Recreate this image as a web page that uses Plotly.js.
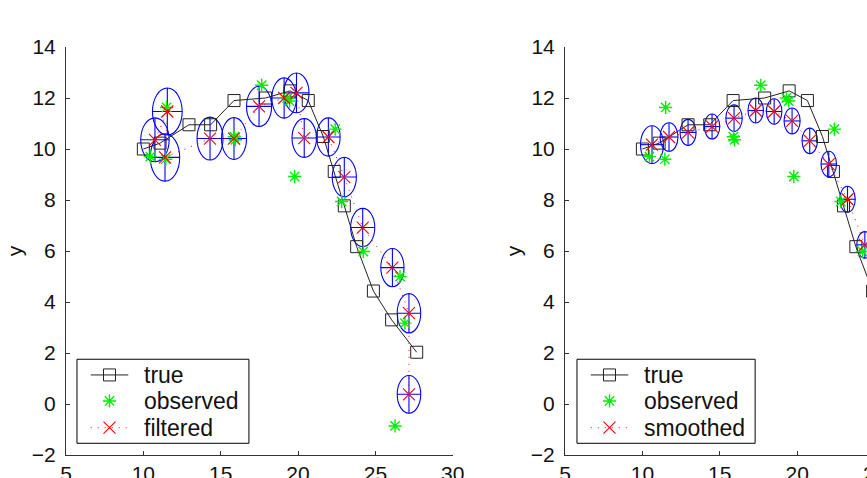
<!DOCTYPE html>
<html>
<head>
<meta charset="utf-8">
<script src="https://cdn.plot.ly/plotly-3.0.1.min.js"></script>
<style>
  html, body { margin: 0; padding: 0; background: #fff; overflow: hidden; }
  #plot { width: 1000px; height: 520px; }
</style>
</head>
<body>
<div id="plot"></div>
<script>
// True trajectory of the tracked object
const trueX = [10.0, 11.08, 12.95, 14.35, 15.86, 17.9, 19.48, 20.66, 21.63, 22.34, 22.99, 23.79, 24.87, 26.05, 27.67];
const trueY = [10.0, 10.23, 10.95, 10.95, 11.9, 12.0, 12.28, 11.9, 10.49, 9.12, 7.77, 6.17, 4.43, 3.3, 2.03];

// Noisy observations
const obsX = [10.45, 11.5, 11.45, 15.88, 15.95, 17.65, 19.3, 19.45, 19.78, 22.4, 22.82, 24.22, 26.59, 26.91, 26.27];
const obsY = [9.7, 11.63, 9.6, 10.48, 10.36, 12.5, 12.0, 11.88, 8.92, 10.78, 7.94, 5.98, 5.0, 3.17, -0.86];

// Filtered estimates and 1-sigma covariance radii (x, y)
const filtX = [10.75, 11.55, 11.4, 14.31, 15.86, 17.48, 19.1, 19.9, 20.4, 21.96, 22.99, 24.18, 26.1, 27.17, 27.17];
const filtY = [10.36, 11.47, 9.67, 10.41, 10.41, 11.67, 12.0, 12.2, 10.43, 10.47, 8.9, 6.92, 5.35, 3.56, 0.38];
const filtRx = [0.92, 0.96, 0.95, 0.84, 0.81, 0.81, 0.79, 0.81, 0.79, 0.76, 0.78, 0.78, 0.75, 0.76, 0.76];
const filtRy = [0.86, 0.92, 0.93, 0.84, 0.82, 0.79, 0.79, 0.78, 0.76, 0.75, 0.77, 0.75, 0.75, 0.77, 0.74];

// Smoothed estimates and covariance radii
const smoothX = [10.62, 11.72, 12.95, 14.5, 15.92, 17.32, 18.51, 19.67, 20.81, 22.04, 23.25, 24.37, 25.4, 26.5, 27.4];
const smoothY = [10.17, 10.47, 10.65, 10.88, 11.21, 11.51, 11.47, 11.1, 10.32, 9.41, 8.03, 6.24, 4.5, 2.8, 0.9];
const smoothRx = [0.74, 0.58, 0.52, 0.5, 0.53, 0.5, 0.5, 0.52, 0.5, 0.5, 0.5, 0.52, 0.52, 0.55, 0.74];
const smoothRy = [0.74, 0.56, 0.51, 0.49, 0.52, 0.49, 0.5, 0.51, 0.5, 0.5, 0.51, 0.52, 0.52, 0.55, 0.74];

const xTicks = [5, 10, 15, 20, 25, 30];
const yTicks = [-2, 0, 2, 4, 6, 8, 10, 12, 14];
const legendLabels = ['true', 'observed'];

const FONT = 'Liberation Sans, Arial, Helvetica, sans-serif';
const AXIS_COLOR = '#333';
const TEXT_COLOR = '#111';

// Series styles
const STYLE_TRUE = { line: { color: '#222', width: 1 },
  marker: { symbol: 'square-open', size: 12, color: '#222', line: { width: 1 } } };
const STYLE_OBS = { marker: { symbol: 'asterisk-open', size: 11, color: '#00ee00', line: { width: 1.4, color: '#00ee00' } } };
const STYLE_EST = { line: { color: '#ff0000', width: 1, dash: '1px,6px' },
  marker: { symbol: 'x-thin-open', size: 12, color: '#ff0000', line: { width: 1.1, color: '#ff0000' } } };

function panelTraces(xa, ya, estX, estY) {
  return [
    { x: trueX, y: trueY, xaxis: xa, yaxis: ya, mode: 'lines+markers', line: STYLE_TRUE.line, marker: STYLE_TRUE.marker },
    { x: obsX, y: obsY, xaxis: xa, yaxis: ya, mode: 'markers', marker: STYLE_OBS.marker },
    { x: estX, y: estY, xaxis: xa, yaxis: ya, mode: 'lines+markers', line: STYLE_EST.line, marker: STYLE_EST.marker }
  ];
}

// Covariance ellipses with their principal-axis crosses
function ellipseShapes(xr, yr, cx, cy, rx, ry) {
  const out = [];
  const line = { color: '#0000ff', width: 1.1 };
  for (let i = 0; i < cx.length; i++) {
    out.push({ type: 'circle', xref: xr, yref: yr, x0: cx[i] - rx[i], x1: cx[i] + rx[i],
               y0: cy[i] - ry[i], y1: cy[i] + ry[i], line: line, layer: 'below' });
    out.push({ type: 'line', xref: xr, yref: yr, x0: cx[i] - rx[i], x1: cx[i] + rx[i],
               y0: cy[i], y1: cy[i], line: line, layer: 'below' });
    out.push({ type: 'line', xref: xr, yref: yr, x0: cx[i], x1: cx[i],
               y0: cy[i] - ry[i], y1: cy[i] + ry[i], line: line, layer: 'below' });
  }
  return out;
}

// Legend box placement, as fractions of each panel's axis box
const LEG_LEFT = { boxX0: 0.0284, boxX1: 0.473, lineX0: 0.0639, lineX1: 0.1611, markX: 0.1125, textX: 0.1958 };
const LEG_RIGHT = { boxX0: 0.031, boxX1: 0.4913, lineX0: 0.0665, lineX1: 0.1637, markX: 0.115, textX: 0.1983 };
const LEG_ROWS = [0.1962, 0.1325, 0.067];
const LEG_Y0 = 0.0287, LEG_Y1 = 0.2347;

// Legend sample glyphs live on a hidden [0,1] overlay of each panel
function legendSamples(xa, ya, g) {
  const lx = [g.lineX0, g.lineX1];
  return [
    { x: lx, y: [LEG_ROWS[0], LEG_ROWS[0]], xaxis: xa, yaxis: ya, mode: 'lines', line: STYLE_TRUE.line },
    { x: [g.markX], y: [LEG_ROWS[0]], xaxis: xa, yaxis: ya, mode: 'markers', marker: STYLE_TRUE.marker },
    { x: [g.markX], y: [LEG_ROWS[1]], xaxis: xa, yaxis: ya, mode: 'markers', marker: STYLE_OBS.marker },
    { x: lx, y: [LEG_ROWS[2], LEG_ROWS[2]], xaxis: xa, yaxis: ya, mode: 'lines', line: STYLE_EST.line },
    { x: [g.markX], y: [LEG_ROWS[2]], xaxis: xa, yaxis: ya, mode: 'markers', marker: STYLE_EST.marker }
  ];
}
function legendBox(xr, yr, g) {
  return { type: 'rect', xref: xr + ' domain', yref: yr + ' domain',
           x0: g.boxX0, x1: g.boxX1, y0: LEG_Y0, y1: LEG_Y1,
           line: { color: '#000', width: 1 }, fillcolor: '#fff', layer: 'below' };
}
function legendText(xr, yr, g, lastLabel) {
  const labels = legendLabels.concat([lastLabel]);
  return labels.map((t, i) => ({
    text: t, xref: xr + ' domain', yref: yr + ' domain', x: g.textX, y: LEG_ROWS[i],
    xanchor: 'left', yanchor: 'middle', showarrow: false,
    font: { family: FONT, size: 23, color: TEXT_COLOR }
  }));
}

const data = [].concat(
  panelTraces('x', 'y', filtX, filtY),
  panelTraces('x2', 'y2', smoothX, smoothY),
  legendSamples('x3', 'y3', LEG_LEFT),
  legendSamples('x4', 'y4', LEG_RIGHT)
).map(t => Object.assign({ showlegend: false, hoverinfo: 'skip', cliponaxis: false }, t));

function xAxis(domain, anchor) {
  return {
    domain: domain, anchor: anchor, range: [5, 30], tickvals: xTicks,
    ticks: 'inside', ticklen: 4, tickcolor: AXIS_COLOR, tickwidth: 1,
    showline: true, linecolor: AXIS_COLOR, linewidth: 1,
    showgrid: false, zeroline: false, automargin: false,
    tickfont: { family: FONT, size: 21, color: TEXT_COLOR }, ticklabelstandoff: 0
  };
}
function yAxis(anchor) {
  return {
    domain: [0, 1], anchor: anchor, range: [-2, 14], tickvals: yTicks,
    ticks: 'inside', ticklen: 4, tickcolor: AXIS_COLOR, tickwidth: 1,
    showline: true, linecolor: AXIS_COLOR, linewidth: 1,
    showgrid: false, zeroline: false, automargin: false,
    tickfont: { family: FONT, size: 21, color: TEXT_COLOR }, ticklabelstandoff: 5,
    title: { text: 'y', font: { family: FONT, size: 21, color: TEXT_COLOR }, standoff: 3 }
  };
}
function overlayAxis(over, anchor) {
  return { overlaying: over, anchor: anchor, range: [0, 1], visible: false, fixedrange: true };
}

const layout = {
  width: 1000, height: 520,
  margin: { l: 66, r: 48, t: 47, b: 65 },
  paper_bgcolor: '#fff', plot_bgcolor: '#fff',
  showlegend: false,
  xaxis: xAxis([0, 0.4365], 'y'),
  yaxis: yAxis('x'),
  xaxis2: xAxis([0.5632, 1], 'y2'),
  yaxis2: yAxis('x2'),
  xaxis3: overlayAxis('x', 'y3'),
  yaxis3: overlayAxis('y', 'x3'),
  xaxis4: overlayAxis('x2', 'y4'),
  yaxis4: overlayAxis('y2', 'x4'),
  shapes: [].concat(
    ellipseShapes('x', 'y', filtX, filtY, filtRx, filtRy),
    ellipseShapes('x2', 'y2', smoothX, smoothY, smoothRx, smoothRy),
    [legendBox('x', 'y', LEG_LEFT), legendBox('x2', 'y2', LEG_RIGHT)]
  ),
  annotations: [].concat(
    legendText('x', 'y', LEG_LEFT, 'filtered'),
    legendText('x2', 'y2', LEG_RIGHT, 'smoothed')
  )
};

Plotly.newPlot('plot', data, layout, { staticPlot: true, displayModeBar: false });
</script>
</body>
</html>
